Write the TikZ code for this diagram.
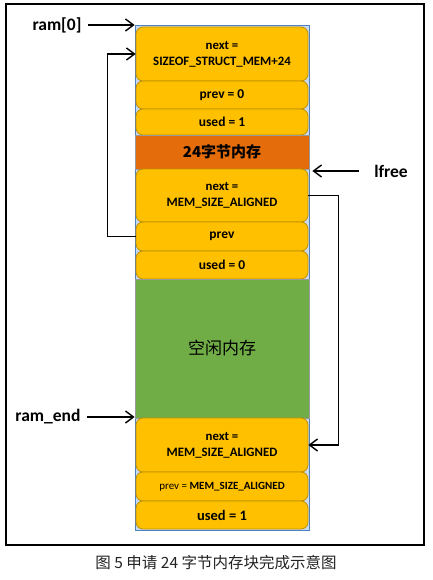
\documentclass[tikz,border=0pt]{standalone}
\usepackage{fontspec}
\setmainfont{Carlito}
\newfontfamily\cjk{Noto Sans CJK SC}
\usetikzlibrary{arrows.meta}
\definecolor{INK}{HTML}{000000}
\definecolor{GOLD}{HTML}{FFC000}
\definecolor{GOLDLINE}{HTML}{BF9000}
\definecolor{RUST}{HTML}{E46C0A}
\definecolor{GRASS}{HTML}{70AD47}
\definecolor{COLBLUE}{HTML}{4F81BD}
\definecolor{COLFILL}{HTML}{C6D9F1}
\definecolor{CAPT}{HTML}{222222}

\begin{document}
\begin{tikzpicture}[x=1pt,y=-1pt]
\tikzset{ptr/.style={-{Straight Barb[length=8pt,width=12pt]},line width=1.4pt,INK},
 blk/.style={draw=GOLDLINE,fill=GOLD,rounded corners=7pt,minimum width=172pt,inner sep=0pt,
  align=center,line width=0.8pt,font=\bfseries\fontsize{12.8}{16}\selectfont},
 area/.style={draw=black!40,line width=0.6pt,minimum width=174pt,inner sep=0pt},
 lbl/.style={font=\bfseries\fontsize{17.5}{17.5}\selectfont}}
\useasboundingbox (0,0) rectangle (432,580);
\draw[line width=1.5pt] (6,4) rectangle (424,545);
% memory column
\node[draw=COLBLUE,fill=COLFILL,line width=0.8pt,minimum width=174pt,minimum height=505pt,inner sep=0pt] (col) at (222,277.5) {};
\node[blk,minimum height=54pt] (n1) at (222,54) {next =\\SIZEOF\_STRUCT\_MEM+24};
\node[blk,minimum height=28pt,font=\bfseries\fontsize{13.5}{15}\selectfont] (p1) at (222,95) {prev = 0};
\node[blk,minimum height=26pt,font=\bfseries\fontsize{13.5}{15}\selectfont] (u1) at (222,122) {used = 1};
\node[area,fill=RUST,minimum height=34pt,font=\cjk\bfseries\fontsize{15}{15}\selectfont] (used) at (222,152) {24字节内存};
\node[blk,minimum height=53pt] (n2) at (222,195.5) {next =\\MEM\_SIZE\_ALIGNED};
\node[blk,minimum height=29pt,font=\bfseries\fontsize{13.5}{15}\selectfont] (p2) at (222,236.5) {prev};
\node[blk,minimum height=28pt,font=\bfseries\fontsize{13.5}{15}\selectfont] (u2) at (222,265) {used = 0};
\node[area,fill=GRASS,minimum height=139pt,font=\cjk\fontsize{17}{17}\selectfont] (free) at (222,348.5) {空闲内存};
\node[blk,minimum height=54pt] (n3) at (222,445) {next =\\MEM\_SIZE\_ALIGNED};
\node[blk,minimum height=29pt,font=\fontsize{11}{12}\selectfont] (p3) at (222,486.5) {prev = \textbf{MEM\_SIZE\_ALIGNED}};
\node[blk,minimum height=28pt,font=\bfseries\fontsize{14.5}{15}\selectfont] (u3) at (222,515) {used = 1};
% pointers
\node[lbl] (ram0) at (57,25) {ram[0]};
\node[lbl] (lfree) at (391,171) {lfree};
\node[lbl] (ramend) at (48,417) {ram\_end};
\draw[ptr] (ram0.east) ++(3,0) -- (col.west |- ram0.east);
\draw[ptr] (ramend.east) ++(3,0) -- (col.west |- ramend.east);
\draw[ptr,shorten >=3pt] (lfree.west) ++(-12,0) -- (col.east |- lfree.west);
\draw[ptr] (p2.west) -- ++(-28,0) |- (n1.west);
\draw[ptr] (n2.east) -- ++(30,0) |- (n3.east);
% caption
\node[font=\cjk\fontsize{15.5}{15.5}\selectfont,text=CAPT] (capt) at (216,563) {图 5 申请 24 字节内存块完成示意图};
\end{tikzpicture}
\end{document}
